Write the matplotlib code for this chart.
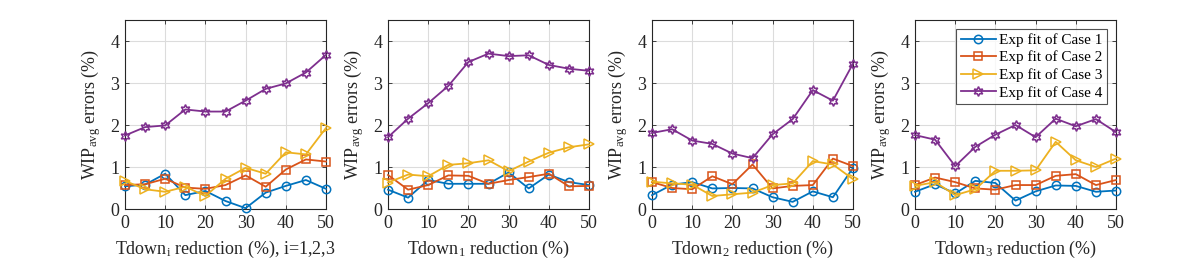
import matplotlib
matplotlib.use("Agg")
import matplotlib.pyplot as plt

plt.rcParams['font.family'] = ['Liberation Serif', 'DejaVu Serif']
plt.rcParams['mathtext.fontset'] = 'custom'
plt.rcParams['mathtext.rm'] = 'Liberation Serif'
plt.rcParams['mathtext.it'] = 'Liberation Serif:italic'

x = [0, 5, 10, 15, 20, 25, 30, 35, 40, 45, 50]
series_labels = ["Exp fit of Case 1", "Exp fit of Case 2", "Exp fit of Case 3", "Exp fit of Case 4"]
xlabels = [r"Tdown$_{\rm i}$ reduction (%), i=1,2,3",
           r"Tdown$_{\rm 1}$ reduction (%)",
           r"Tdown$_{\rm 2}$ reduction (%)",
           r"Tdown$_{\rm 3}$ reduction (%)"]
ylabel = r"WIP$_{\rm avg}$ errors (%)"

# Panel 1
p1_case1 = [0.54, 0.58, 0.84, 0.33, 0.43, 0.19, 0.02, 0.39, 0.55, 0.69, 0.48]
p1_case2 = [0.57, 0.59, 0.72, 0.51, 0.48, 0.57, 0.80, 0.53, 0.94, 1.18, 1.13]
p1_case3 = [0.67, 0.47, 0.41, 0.53, 0.31, 0.72, 0.98, 0.84, 1.35, 1.30, 1.93]
p1_case4 = [1.75, 1.95, 1.99, 2.37, 2.32, 2.32, 2.58, 2.86, 2.99, 3.25, 3.67]
# Panel 2
p2_case1 = [0.46, 0.27, 0.69, 0.60, 0.60, 0.60, 0.87, 0.49, 0.82, 0.64, 0.57]
p2_case2 = [0.81, 0.46, 0.57, 0.80, 0.79, 0.60, 0.69, 0.76, 0.84, 0.54, 0.55]
p2_case3 = [0.63, 0.82, 0.78, 1.05, 1.09, 1.16, 0.90, 1.13, 1.34, 1.47, 1.54]
p2_case4 = [1.71, 2.15, 2.52, 2.93, 3.50, 3.70, 3.64, 3.66, 3.43, 3.34, 3.29]
# Panel 3
p3_case1 = [0.33, 0.58, 0.64, 0.49, 0.50, 0.49, 0.28, 0.17, 0.42, 0.28, 0.98]
p3_case2 = [0.64, 0.50, 0.47, 0.78, 0.59, 1.06, 0.49, 0.55, 0.57, 1.20, 1.02]
p3_case3 = [0.65, 0.61, 0.58, 0.31, 0.35, 0.39, 0.57, 0.61, 1.14, 1.06, 0.71]
p3_case4 = [1.81, 1.90, 1.63, 1.55, 1.32, 1.21, 1.78, 2.14, 2.83, 2.58, 3.46]
# Panel 4
p4_case1 = [0.41, 0.59, 0.37, 0.67, 0.62, 0.20, 0.42, 0.56, 0.55, 0.41, 0.44]
p4_case2 = [0.57, 0.75, 0.64, 0.49, 0.46, 0.57, 0.57, 0.79, 0.83, 0.57, 0.69]
p4_case3 = [0.55, 0.64, 0.33, 0.47, 0.91, 0.91, 0.92, 1.60, 1.16, 1.00, 1.20]
p4_case4 = [1.76, 1.65, 1.02, 1.48, 1.77, 2.00, 1.71, 2.15, 1.97, 2.14, 1.83]

panels = [
    [p1_case1, p1_case2, p1_case3, p1_case4],
    [p2_case1, p2_case2, p2_case3, p2_case4],
    [p3_case1, p3_case2, p3_case3, p3_case4],
    [p4_case1, p4_case2, p4_case3, p4_case4],
]

colors = ['#0072BD', '#D95319', '#EDB120', '#7E2F8E']
markers = ['o', 's', '>', (6, 1, 0)]
msizes = [6, 5.5, 7, 7]

W, H = 1196, 265
fig = plt.figure(figsize=(W / 100, H / 100), dpi=100)
lefts = [125, 388, 652, 915]
top, bottom, aw = 20, 209, 201

for i, (series, xl) in enumerate(zip(panels, xlabels)):
    ax = fig.add_axes([lefts[i] / W, 1 - bottom / H, aw / W, (bottom - top) / H])
    for j, ys in enumerate(series):
        ax.plot(x, ys, color=colors[j], marker=markers[j], markersize=msizes[j],
                markerfacecolor='none', markeredgecolor=colors[j], markeredgewidth=1.1,
                linewidth=1.3, label=series_labels[j], clip_on=False, zorder=3)
    ax.set_xlim(0, 50)
    ax.set_ylim(0, 4.5)
    ax.set_xticks([0, 10, 20, 30, 40, 50])
    ax.set_yticks([0, 1, 2, 3, 4])
    ax.grid(True, color='#dcdcdc', linewidth=0.8)
    ax.set_axisbelow(True)
    ax.tick_params(direction='in', top=True, right=True, length=3, width=0.6,
                   labelsize=13, colors='#262626', pad=4)
    for s in ax.spines.values():
        s.set_color('#262626')
        s.set_linewidth(0.8)
    ax.set_xlabel(xl, fontsize=13, color='#262626', labelpad=5)
    ax.set_ylabel(ylabel, fontsize=13, color='#262626', labelpad=5)
    if i == 3:
        leg = ax.legend(loc='upper right', bbox_to_anchor=(0.955, 0.955), fontsize=11,
                        frameon=True, fancybox=False, edgecolor='#262626',
                        handlelength=2.3, handletextpad=0.2, borderpad=0.3,
                        labelspacing=0.25, borderaxespad=0.0)
        leg.get_frame().set_linewidth(0.8)

fig.savefig("out.png", dpi=100)
